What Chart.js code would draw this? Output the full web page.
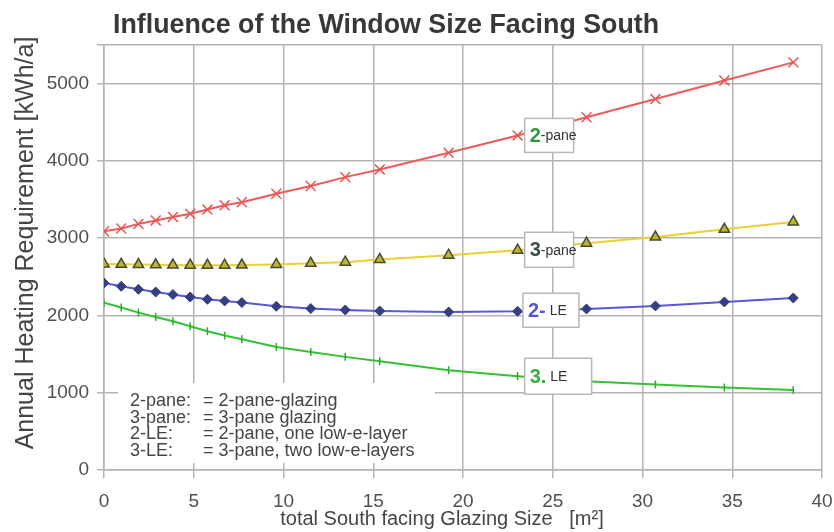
<!DOCTYPE html>
<html>
<head>
<meta charset="utf-8">
<script src="https://cdn.jsdelivr.net/npm/chart.js@4/dist/chart.umd.min.js"></script>
<style>
  body { margin: 0; background: #fff; }
  #wrap { width: 834px; height: 532px; }
</style>
</head>
<body>
<div id="wrap"><canvas id="windowChart" width="834" height="532"></canvas></div>
<script>
// glazing size in m² (same x for every curve)
const glazingSize = [0, 0.96, 1.92, 2.88, 3.84, 4.8, 5.76, 6.72, 7.68, 9.6, 11.52, 13.44, 15.36, 19.2, 23.04, 26.88, 30.72, 34.56, 38.4];

// annual heating requirement in kWh/a
const pane2 = [3090, 3125, 3185, 3230, 3275, 3315, 3370, 3425, 3465, 3575, 3675, 3790, 3890, 4105, 4330, 4565, 4800, 5040, 5275];
const pane3 = [2665, 2662, 2658, 2655, 2652, 2650, 2650, 2650, 2652, 2660, 2675, 2690, 2725, 2780, 2845, 2935, 3015, 3115, 3210];
const le2 = [2420, 2377, 2338, 2304, 2270, 2239, 2209, 2188, 2167, 2119, 2089, 2071, 2058, 2045, 2054, 2084, 2123, 2175, 2226];
const le3 = [2164, 2102, 2037, 1981, 1925, 1860, 1796, 1740, 1692, 1593, 1528, 1464, 1408, 1292, 1214, 1150, 1107, 1068, 1034];

const xTicks = [0, 5, 10, 15, 20, 25, 30, 35, 40];
const yTicks = [0, 1000, 2000, 3000, 4000, 5000];

// curve labels, anchored in data units
const curveNames = ['2-pane', '3-pane', '2-LE', '3-LE'];
const labelX = [24.8, 24.8, 24.9, 25.3];
const labelY = [4330, 2850, 2067, 1214];

const legendKeys = ['2-pane:', '3-pane:', '2-LE:', '3-LE:'];
const legendDefs = ['= 2-pane-glazing', '= 3-pane glazing', '= 2-pane, one low-e-layer', '= 3-pane, two low-e-layers'];

const FONT = "'Liberation Sans', Arial, sans-serif";

const toPoints = (vals) => glazingSize.map((x, i) => ({ x: x, y: vals[i] }));

// label box looks
const boxStyle = [
    { w: 49, h: 34, big: '2', bigColor: '#2f9a3c', small: '-pane' },
    { w: 49, h: 35, big: '3', bigColor: '#3f4f44', small: '-pane' },
    { w: 56, h: 34, big: '2-', bigColor: '#5454d2', small: ' LE' },
    { w: 67, h: 36, big: '3.', bigColor: '#35b040', small: ' LE' }
];

const decorPlugin = {
    id: 'decor',
    beforeDatasetsDraw(chart) {
        const ctx = chart.ctx;
        // white panel behind the abbreviation list
        ctx.save();
        ctx.fillStyle = '#fff';
        ctx.fillRect(118, 383, 317, 80);
        ctx.fillStyle = '#454545';
        ctx.font = '18px ' + FONT;
        ctx.textBaseline = 'alphabetic';
        legendKeys.forEach((k, i) => {
            const y = 406 + i * 16.5;
            ctx.fillText(k, 130, y);
            ctx.fillText(legendDefs[i], 203, y);
        });
        ctx.restore();
    },
    afterDatasetsDraw(chart) {
        const ctx = chart.ctx;
        const xs = chart.scales.x, ys = chart.scales.y;
        ctx.save();
        curveNames.forEach((name, i) => {
            const st = boxStyle[i];
            const cx = xs.getPixelForValue(labelX[i]);
            const cy = ys.getPixelForValue(labelY[i]);
            const left = cx - st.w / 2, top = cy - st.h / 2;
            ctx.fillStyle = '#fff';
            ctx.fillRect(left, top, st.w, st.h);
            ctx.strokeStyle = '#b8b8b8';
            ctx.lineWidth = 1.5;
            ctx.strokeRect(left, top, st.w, st.h);
            ctx.textBaseline = 'middle';
            ctx.font = 'bold 20px ' + FONT;
            ctx.fillStyle = st.bigColor;
            ctx.fillText(st.big, left + 5, cy + 1);
            const bw = ctx.measureText(st.big).width;
            ctx.font = '14px ' + FONT;
            ctx.fillStyle = '#333';
            ctx.fillText(st.small, left + 5 + bw, cy + 1);
        });
        ctx.restore();
    },
    afterDraw(chart) {
        const ctx = chart.ctx;
        ctx.save();
        ctx.fillStyle = '#383838';
        ctx.font = 'bold 26.8px ' + FONT;
        ctx.textBaseline = 'alphabetic';
        ctx.fillText('Influence of the Window Size Facing South', 113, 33);

        ctx.fillStyle = '#454545';
        ctx.font = '20px ' + FONT;
        ctx.textAlign = 'center';
        ctx.fillText('total South facing Glazing Size   [m\u00b2]', 442, 525);

        ctx.translate(26, 243);
        ctx.rotate(-Math.PI / 2);
        ctx.font = '25px ' + FONT;
        ctx.textBaseline = 'middle';
        ctx.fillText('Annual Heating Requirement [kWh/a]', 0, 0);
        ctx.restore();
    }
};

const seriesDefs = [
    { label: '3-LE', data: le3, line: '#33c233', point: 'line', fill: '#2fa82f', edge: '#2fa82f', r: 4, rot: 90, bw: 1.5 },
    { label: '2-LE', data: le2, line: '#5858d8', point: 'rectRot', fill: '#323f80', edge: '#323f80', r: 5, rot: 0, bw: 1 },
    { label: '3-pane', data: pane3, line: '#ecd030', point: 'triangle', fill: '#bdb431', edge: '#4a4a30', r: 6, rot: 0, bw: 1.5 },
    { label: '2-pane', data: pane2, line: '#f05a5a', point: 'crossRot', fill: '#e85555', edge: '#e85555', r: 7, rot: 0, bw: 1.5 }
];

new Chart(document.getElementById('windowChart'), {
    type: 'line',
    data: {
        datasets: seriesDefs.map(s => ({
            label: s.label,
            data: toPoints(s.data),
            borderColor: s.line,
            borderWidth: 2,
            pointStyle: s.point,
            pointRadius: s.r,
            pointRotation: s.rot,
            pointBackgroundColor: s.fill,
            pointBorderColor: s.edge,
            pointBorderWidth: s.bw,
            tension: 0
        }))
    },
    options: {
        responsive: false,
        animation: false,
        layout: { padding: { left: 0, right: 12, top: 45, bottom: 0 } },
        plugins: {
            legend: { display: false },
            tooltip: { enabled: false },
            title: { display: false }
        },
        scales: {
            x: {
                type: 'linear',
                min: 0,
                max: 40,
                afterFit: (s) => { s.height = 62; s.paddingRight = 0; s.paddingLeft = 0; },
                afterBuildTicks: (s) => { s.ticks = xTicks.map(v => ({ value: v })); },
                ticks: { color: '#505050', font: { family: FONT, size: 19 }, padding: 12 },
                grid: { color: '#b4b4b4', lineWidth: 1.5, tickLength: 8 },
                border: { color: '#b4b4b4', width: 1.5 }
            },
            y: {
                min: 0,
                max: 5500,
                afterFit: (s) => { s.width = 104; s.paddingTop = 0; s.paddingBottom = 0; },
                afterBuildTicks: (s) => { s.ticks = yTicks.concat([5500]).map(v => ({ value: v })); },
                ticks: {
                    color: '#505050',
                    font: { family: FONT, size: 19 },
                    padding: 8,
                    callback: (v) => (yTicks.includes(v) ? String(v) : '')
                },
                grid: { color: '#b4b4b4', lineWidth: 1.5, tickLength: 7 },
                border: { color: '#b4b4b4', width: 1.5 }
            }
        }
    },
    plugins: [decorPlugin]
});
</script>
</body>
</html>
